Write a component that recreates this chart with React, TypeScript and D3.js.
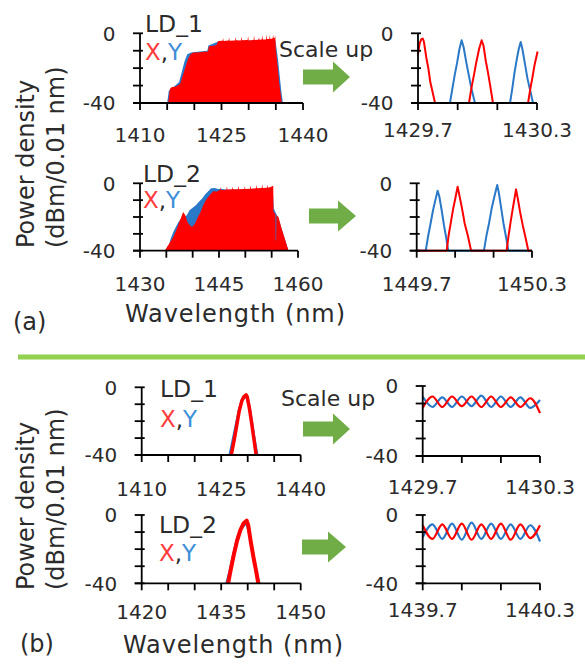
import React from "react";
import * as d3 from "d3";

// ---------- DATA ----------
type P = [number, number];

// (a) LD_1 broadband spectra (wavelength nm, dBm)
const aLd1X: P[] = [
  [1415.2, -40], [1415.5, -32], [1415.8, -31], [1416.6, -30.5], [1417.4, -29], [1417.8, -25], [1418.3, -20],
  [1418.8, -15], [1419.3, -12], [1419.8, -11], [1420.6, -11], [1421.4, -10.8], [1422.5, -10.5], [1422.7, -7.5],
  [1423.6, -7.2], [1424.1, -6.5], [1424.4, -4.4], [1425.2, -4.3], [1425.3, -2.8], [1425.4, -4.4], [1426.3, -4.2],
  [1426.4, -2.6], [1426.5, -4.3], [1427.5, -4.1], [1427.6, -2.2], [1427.7, -4.0], [1428.6, -4.2], [1428.7, -2.0],
  [1428.8, -4.0], [1429.8, -3.9], [1429.9, -1.6], [1430.0, -4.1], [1430.9, -3.8], [1431.0, -1.3], [1431.1, -3.8],
  [1431.8, -3.7], [1431.9, -2.2], [1432.0, -3.7], [1432.4, -3.6], [1432.5, -1.0], [1432.6, -3.5], [1433.2, -3.5],
  [1433.3, -0.8], [1433.4, -3.3], [1433.8, -3.3], [1433.9, -1.0], [1434.0, -3.2], [1434.4, -3.0], [1434.5, -0.9],
  [1434.6, -2.8], [1434.8, -2.6], [1434.9, -1.2], [1435.0, -9], [1435.3, -18],
  [1435.6, -28], [1435.9, -35], [1436.1, -40],
];
const aLd1Y: P[] = [
  [1415.0, -40], [1415.3, -33], [1416.5, -30], [1417.2, -28], [1417.7, -22], [1418.2, -16], [1418.7, -12],
  [1419.4, -11], [1421.0, -10.5], [1422.4, -10], [1422.6, -7], [1424.2, -5], [1424.5, -4.6], [1426.0, -4.5],
  [1428.0, -4.4], [1430.0, -4.2], [1432.0, -4.0], [1434.0, -3.8], [1434.9, -4], [1435.1, -8], [1435.4, -15],
  [1435.7, -24], [1436.0, -33], [1436.3, -40],
];
// (a) LD_2 broadband spectra
const aLd2X: P[] = [
  [1434.7, -40], [1435.5, -36], [1436.3, -32], [1437.0, -27], [1437.6, -22], [1438.2, -17], [1438.6, -19],
  [1439.0, -23], [1439.5, -25], [1439.9, -26], [1440.5, -23.5], [1441.0, -20], [1441.5, -17], [1442.0, -13],
  [1442.5, -10], [1443.0, -8], [1443.5, -6], [1444.0, -4.5], [1444.5, -5], [1445.2, -3.8], [1445.3, -2.3],
  [1445.4, -4], [1446.4, -3.8], [1446.5, -1.8], [1446.6, -3.7], [1447.5, -3.6], [1447.6, -2], [1447.7, -3.6],
  [1448.6, -3.5], [1448.7, -1.5], [1448.8, -3.5], [1449.8, -3.4], [1449.9, -1.8], [1450.0, -3.4], [1450.9, -3.3],
  [1451.0, -1.2], [1451.1, -3.2], [1452.0, -3.0], [1452.1, -1.0], [1452.2, -3.0], [1453.1, -2.8], [1453.2, -0.6],
  [1453.3, -2.8], [1454.1, -2.6], [1454.2, -0.8], [1454.3, -2.6], [1454.9, -2.0], [1455.3, -1.5], [1455.35, -17],
  [1455.7, -18], [1455.75, -34], [1455.85, -34], [1455.9, -19], [1456.3, -20], [1456.8, -26], [1457.4, -32],
  [1458.2, -40],
];
const aLd2Y: P[] = [
  [1435.0, -40], [1435.2, -37], [1435.4, -38], [1435.8, -33], [1436.3, -29], [1436.8, -26], [1437.3, -23],
  [1437.8, -21], [1438.4, -20], [1438.9, -19], [1439.4, -16], [1440.0, -14.5], [1440.6, -13], [1441.2, -11],
  [1441.8, -9], [1442.4, -6.5], [1443.0, -4.5], [1443.5, -3], [1444.2, -2.8], [1444.8, -3.4], [1445.4, -3.2],
  [1446.5, -3.8], [1448.0, -3.8], [1450.0, -3.6], [1452.0, -3.4], [1454.0, -3.0], [1455.2, -3], [1455.4, -15],
  [1456.0, -19], [1456.5, -23], [1457.0, -28], [1457.6, -34], [1458.2, -40],
];
// (a) scaled-up spectra
const aZoom1X: P[] = [
  [1429.7, -12], [1429.708, -6], [1429.716, -3.5], [1429.724, -3], [1429.73, -5], [1429.742, -14], [1429.752, -20],
  [1429.762, -28], [1429.774, -34], [1429.786, -40], [1429.957, -40], [1429.97, -31], [1429.982, -24],
  [1429.995, -16], [1430.008, -9], [1430.021, -4], [1430.03, -7], [1430.042, -16], [1430.052, -22], [1430.064, -30],
  [1430.078, -40], [1430.255, -40], [1430.266, -32], [1430.276, -26], [1430.288, -18], [1430.303, -10.5],
];
const aZoom1Y: P[] = [
  [1429.7, -40], [1429.861, -40], [1429.873, -32], [1429.885, -24], [1429.897, -17], [1429.909, -9], [1429.92, -4],
  [1429.93, -8], [1429.944, -17], [1429.956, -24], [1429.97, -32], [1429.987, -40], [1430.164, -40],
  [1430.175, -32], [1430.186, -23], [1430.198, -15], [1430.208, -9], [1430.218, -5], [1430.228, -10],
  [1430.24, -18], [1430.252, -26], [1430.266, -33], [1430.28, -40], [1430.3, -40],
];
const aZoom2X: P[] = [
  [1449.7, -40], [1449.856, -40], [1449.866, -31], [1449.878, -23], [1449.89, -15], [1449.901, -9], [1449.913, -2],
  [1449.922, -7], [1449.936, -15], [1449.95, -24], [1449.966, -31], [1449.983, -40], [1450.168, -40],
  [1450.178, -31], [1450.19, -22], [1450.2, -15], [1450.209, -9], [1450.217, -3.6], [1450.226, -9],
  [1450.238, -17], [1450.252, -25], [1450.266, -32], [1450.281, -40], [1450.3, -40],
];
const aZoom2Y: P[] = [
  [1449.7, -40], [1449.747, -40], [1449.76, -31], [1449.772, -24], [1449.785, -16], [1449.797, -10],
  [1449.809, -4.4], [1449.818, -8], [1449.83, -16], [1449.842, -25], [1449.853, -32], [1449.864, -40],
  [1450.05, -40], [1450.063, -31], [1450.076, -24], [1450.09, -15], [1450.104, -8], [1450.119, -1],
  [1450.128, -6], [1450.14, -15], [1450.152, -24], [1450.165, -32], [1450.177, -40], [1450.3, -40],
];
// (b) narrow spectra
const bLd1X: P[] = [
  [1426.9, -40], [1427.4, -32], [1427.9, -23], [1428.4, -14], [1428.9, -8], [1429.3, -5.5], [1429.7, -4.5],
  [1429.9, -5.5], [1430.3, -12], [1430.7, -20], [1431.1, -29], [1431.6, -40],
];
const bLd1Y: P[] = [
  [1426.6, -40], [1427.2, -31], [1427.8, -22], [1428.4, -13], [1428.9, -7.5], [1429.7, -5], [1430.3, -11],
  [1430.8, -21], [1431.3, -31], [1431.8, -40],
];
const bLd2X: P[] = [
  [1436.3, -40], [1436.8, -32], [1437.4, -23], [1438.0, -15], [1438.6, -9], [1439.2, -5], [1439.8, -3.3],
  [1440.1, -6], [1440.6, -16], [1441.1, -25], [1441.6, -33], [1442.0, -40],
];
const bLd2Y: P[] = [
  [1436.0, -40], [1436.6, -33], [1437.3, -23], [1438.0, -14], [1438.7, -8], [1439.8, -4.5], [1440.5, -14],
  [1441.2, -27], [1441.8, -36], [1442.2, -40],
];
// (b) scaled-up spectra: sample wavelengths and levels at successive maxima/minima
const bZoom1Wl = [1429.7, 1429.75, 1429.8, 1429.85, 1429.9, 1429.95, 1430.0, 1430.05, 1430.1, 1430.15, 1430.2,
  1430.25, 1430.3];
const bZoom1X = [-12.5, -6, -12, -6, -11.5, -6, -12, -6, -12, -6.5, -12, -7, -15.5];
const bZoom1Y = [-6, -12, -6.5, -12, -6, -11.5, -5.5, -12, -6, -12, -6.5, -12.5, -8];
const bZoom2Wl = [1439.7, 1439.75, 1439.8, 1439.85, 1439.9, 1439.95, 1440.0, 1440.05, 1440.1, 1440.15, 1440.2,
  1440.25, 1440.3];
const bZoom2X = [-6, -14, -5.5, -14, -5, -14.5, -5.5, -14, -5, -14.5, -5.5, -13.5, -6];
const bZoom2Y = [-13, -5.5, -14, -5, -14.5, -4.5, -14, -5, -14, -5.5, -14, -6, -15.5];

// ticks and labels
const yTicks = [0, -10, -20, -30, -40];
const yLabels = [0, -40];
const aLd1Ticks = [1410, 1415, 1420, 1425, 1430, 1435, 1440];
const aLd1Labels = [1410, 1425, 1440];
const aLd2Ticks = [1430, 1435, 1440, 1445, 1450, 1455, 1460];
const aLd2Labels = [1430, 1445, 1460];
const aZoom1Ticks = [1429.7, 1429.9, 1430.1, 1430.3];
const aZoom1Labels = [1429.7, 1430.3];
const aZoom2Ticks = [1449.7, 1449.9, 1450.1, 1450.3];
const aZoom2Labels = [1449.7, 1450.3];
const bLd1Ticks = [1410, 1415, 1420, 1425, 1430, 1435, 1440];
const bLd1Labels = [1410, 1425, 1440];
const bLd2Ticks = [1420, 1425, 1430, 1435, 1440, 1445, 1450];
const bLd2Labels = [1420, 1435, 1450];
const bZoom1Ticks = [1429.7, 1429.9, 1430.1, 1430.3];
const bZoom1Labels = [1429.7, 1430.3];
const bZoom2Ticks = [1439.7, 1439.9, 1440.1, 1440.3];
const bZoom2Labels = [1439.7, 1440.3];

// ---------- STYLE ----------
const RED = "#ff0000";
const BLUE = "#2a78c8";
const TXT = "#2b2b2b";
const FONT = "DejaVu Sans";
const zip = (w: number[], v: number[]): P[] => w.map((d, i) => [d, v[i]]);

type Panel = {
  x0: number; x1: number; yTop: number; yBot: number;
  ticks: number[]; labels: number[]; fmt: string; labelBase: number;
  kind: "area" | "line" | "smooth";
  red: P[]; blue: P[]; redW?: number; blueW?: number;
};

const panels: Panel[] = [
  { x0: 140, x1: 303, yTop: 33.3, yBot: 103, ticks: aLd1Ticks, labels: aLd1Labels, fmt: "d", labelBase: 142, kind: "area", red: aLd1X, blue: aLd1Y },
  { x0: 418, x1: 537, yTop: 33.3, yBot: 103, ticks: aZoom1Ticks, labels: aZoom1Labels, fmt: ".1f", labelBase: 137, kind: "line", red: aZoom1X, blue: aZoom1Y, redW: 2, blueW: 2 },
  { x0: 140, x1: 298, yTop: 183.3, yBot: 250.7, ticks: aLd2Ticks, labels: aLd2Labels, fmt: "d", labelBase: 291, kind: "area", red: aLd2X, blue: aLd2Y },
  { x0: 416.7, x1: 532, yTop: 183.3, yBot: 250.7, ticks: aZoom2Ticks, labels: aZoom2Labels, fmt: ".1f", labelBase: 291, kind: "line", red: aZoom2X, blue: aZoom2Y, redW: 2, blueW: 2 },
  { x0: 141.7, x1: 300.7, yTop: 387.3, yBot: 455, ticks: bLd1Ticks, labels: bLd1Labels, fmt: "d", labelBase: 496, kind: "line", red: bLd1X, blue: bLd1Y, redW: 3.5, blueW: 2.5 },
  { x0: 422.7, x1: 540, yTop: 386, yBot: 456, ticks: bZoom1Ticks, labels: bZoom1Labels, fmt: ".1f", labelBase: 494, kind: "smooth", red: zip(bZoom1Wl, bZoom1X), blue: zip(bZoom1Wl, bZoom1Y), redW: 2.2, blueW: 2.2 },
  { x0: 141.7, x1: 300.7, yTop: 515, yBot: 583.3, ticks: bLd2Ticks, labels: bLd2Labels, fmt: "d", labelBase: 619, kind: "line", red: bLd2X, blue: bLd2Y, redW: 4, blueW: 2.5 },
  { x0: 422.7, x1: 540, yTop: 515, yBot: 583.3, ticks: bZoom2Ticks, labels: bZoom2Labels, fmt: ".1f", labelBase: 617, kind: "smooth", red: zip(bZoom2Wl, bZoom2X), blue: zip(bZoom2Wl, bZoom2Y), redW: 2.2, blueW: 2.2 },
];

function PanelView({ p }: { p: Panel }) {
  const x = d3.scaleLinear().domain([p.ticks[0], p.ticks[p.ticks.length - 1]]).range([p.x0, p.x1]);
  const y = d3.scaleLinear().domain([-40, 0]).range([p.yBot, p.yTop]);
  const fmt = d3.format(p.fmt);
  let paths: React.ReactNode = null;
  if (p.kind === "area") {
    const area = d3.area<P>().x((d) => x(d[0])).y0(y(-40)).y1((d) => y(d[1]));
    paths = (
      <g>
        <path d={area(p.blue) || ""} fill={BLUE} />
        <path d={area(p.red) || ""} fill={RED} />
      </g>
    );
  } else {
    const line = d3.line<P>().x((d) => x(d[0])).y((d) => y(d[1]))
      .curve(p.kind === "smooth" ? d3.curveMonotoneX : d3.curveLinear);
    paths = (
      <g fill="none" strokeLinejoin="round">
        <path d={line(p.blue) || ""} stroke={BLUE} strokeWidth={p.blueW} />
        <path d={line(p.red) || ""} stroke={RED} strokeWidth={p.redW} />
      </g>
    );
  }
  return (
    <g>
      {paths}
      <g stroke="#000" strokeWidth={1.8}>
        <line x1={p.x0} x2={p.x0} y1={p.yTop} y2={p.yBot} />
        <line x1={p.x0 - 7} x2={p.x1} y1={p.yBot} y2={p.yBot} />
        {yTicks.map((t) => (
          <line key={t} x1={p.x0 - 7} x2={p.x0 + 3} y1={y(t)} y2={y(t)} />
        ))}
        {p.ticks.map((t) => (
          <line key={t} x1={x(t)} x2={x(t)} y1={p.yBot} y2={p.yBot + 7} />
        ))}
      </g>
      <g fontFamily={FONT} fontSize={20} fill={TXT}>
        {yLabels.map((t) => (
          <text key={t} x={p.x0 - 24.5} y={y(t)} dy="0.36em" textAnchor="end">{t}</text>
        ))}
        {p.labels.map((t) => (
          <text key={t} x={x(t)} y={p.labelBase} textAnchor="middle">{fmt(t)}</text>
        ))}
      </g>
    </g>
  );
}

function Arrow({ x0, x1, xh, cy }: { x0: number; x1: number; xh: number; cy: number }) {
  const pts = [
    [x0, cy - 7.5], [xh, cy - 7.5], [xh, cy - 15.5], [x1, cy], [xh, cy + 15.5], [xh, cy + 7.5], [x0, cy + 7.5],
  ];
  return <polygon points={pts.map((q) => q.join(",")).join(" ")} fill="#70ad47" />;
}

function XY({ x, y }: { x: number; y: number }) {
  return (
    <text x={x} y={y} fontFamily={FONT} fontSize={23}>
      <tspan fill="#ff3b3b">X</tspan>
      <tspan fill={TXT}>,</tspan>
      <tspan fill="#3d8fd8">Y</tspan>
    </text>
  );
}

export default function App() {
  return (
    <svg width={585} height={667} style={{ position: "absolute", left: 0, top: 0, background: "#fff" }}>
      <rect width={585} height={667} fill="#fff" />
      {panels.map((p, i) => (
        <PanelView key={i} p={p} />
      ))}
      <line x1={18} x2={585} y1={357} y2={357} stroke="#92d050" strokeWidth={5} />
      <Arrow x0={303} x1={350} xh={333} cy={77} />
      <Arrow x0={309} x1={356} xh={338} cy={216} />
      <Arrow x0={303} x1={350} xh={333} cy={429} />
      <Arrow x0={302} x1={346} xh={328} cy={547} />
      <g fontFamily={FONT} fill={TXT}>
        <text x={145} y={32} fontSize={23.5}>LD_1</text>
        <text x={143} y={182} fontSize={23.5}>LD_2</text>
        <text x={160} y={397} fontSize={23.5}>LD_1</text>
        <text x={159} y={533} fontSize={23.5}>LD_2</text>
        <text x={279} y={57} fontSize={22}>Scale up</text>
        <text x={281} y={406} fontSize={22}>Scale up</text>
        <text x={125} y={322} fontSize={24} textLength={220}>Wavelength (nm)</text>
        <text x={123} y={653} fontSize={24} textLength={220}>Wavelength (nm)</text>
        <text x={13} y={330} fontSize={24}>(a)</text>
        <text x={20} y={652} fontSize={24}>(b)</text>
        <text transform="translate(34,248) rotate(-90)" fontSize={24}>Power density</text>
        <text transform="translate(64,248) rotate(-90)" fontSize={24}>(dBm/0.01 nm)</text>
        <text transform="translate(34,590) rotate(-90)" fontSize={24}>Power density</text>
        <text transform="translate(64,590) rotate(-90)" fontSize={24}>(dBm/0.01 nm)</text>
      </g>
      <XY x={145} y={60} />
      <XY x={143} y={208} />
      <XY x={160} y={427} />
      <XY x={159} y={561} />
    </svg>
  );
}
